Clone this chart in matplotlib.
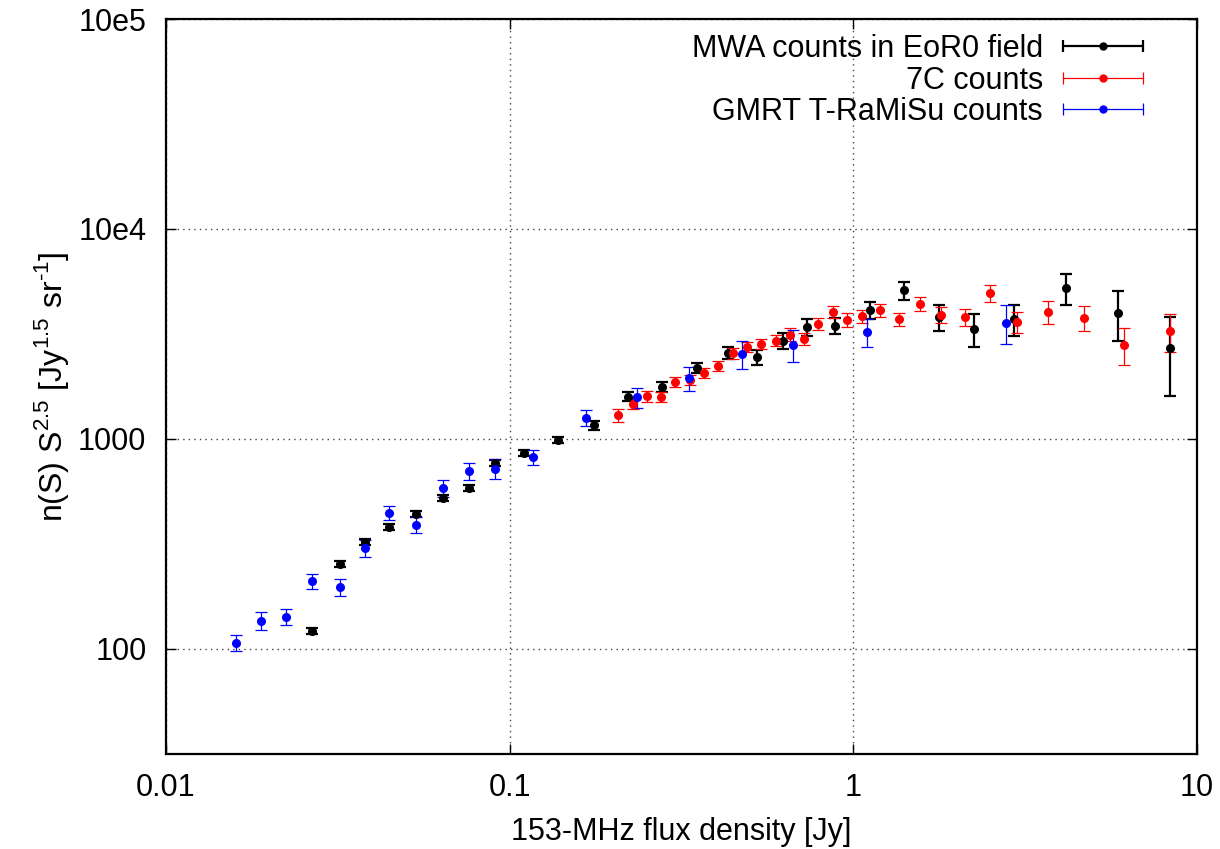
import numpy as np
import matplotlib
matplotlib.use("Agg")
import matplotlib.pyplot as plt
from matplotlib.container import ErrorbarContainer
from matplotlib.legend_handler import HandlerErrorbar

plt.rcParams['font.family'] = ['Liberation Sans', 'DejaVu Sans']
plt.rcParams['mathtext.fontset'] = 'custom'
plt.rcParams['mathtext.rm'] = 'Liberation Sans'

# MWA source counts in the EoR0 field
mwa_s = [0.0267, 0.032, 0.0379, 0.0447, 0.0535, 0.064, 0.076, 0.0908, 0.1104, 0.1387,
         0.176, 0.2208, 0.278, 0.352, 0.433, 0.524, 0.624, 0.733, 0.888, 1.116,
         1.408, 1.778, 2.242, 2.934, 4.17, 5.91, 8.38]
mwa_n = [122, 253, 324, 382, 439, 524, 586, 766, 855, 989,
         1161, 1589, 1771, 2178, 2570, 2449, 2939, 3412, 3467, 4113,
         5106, 3819, 3342, 3718, 5237, 3984, 2704]
mwa_err = [4, 8, 11, 13, 15, 17, 20, 25, 28, 33,
           52, 80, 100, 123, 175, 195, 270, 310, 320, 395,
           495, 535, 590, 610, 900, 1060, 1100]

# 7C counts
c7_s = [0.2075, 0.228, 0.2507, 0.276, 0.304, 0.336, 0.3684, 0.4045, 0.4459, 0.4909,
        0.5403, 0.595, 0.6537, 0.72, 0.792, 0.8727, 0.961, 1.064, 1.196, 1.359,
        1.565, 1.806, 2.111, 2.497, 3.0, 3.686, 4.685, 6.12, 8.38]
c7_n = [1297, 1468, 1596, 1589, 1875, 1909, 2061, 2227, 2558, 2756,
        2845, 2939, 3143, 2992, 3532, 4035, 3700, 3853, 4113, 3718,
        4395, 3890, 3819, 4955, 3624, 4026, 3767, 2806, 3267]
c7_err = [98, 82, 90, 90, 105, 107, 115, 125, 143, 155,
          160, 180, 215, 205, 240, 275, 270, 280, 300, 270,
          340, 340, 350, 450, 420, 490, 510, 560, 660]

# GMRT T-RaMiSu counts
gmrt_s = [0.01596, 0.0189, 0.0223, 0.0267, 0.032, 0.0379, 0.0447, 0.0535, 0.064, 0.076,
          0.0908, 0.1173, 0.1664, 0.235, 0.3335, 0.4736, 0.67, 1.096, 2.78]
gmrt_n = [107, 136.5, 142.5, 210, 197, 301, 446, 391, 585, 702,
          722, 818, 1262, 1581, 1945, 2541, 2812, 3245, 3582]
gmrt_err = [9.5, 13, 13, 17, 18, 28, 36, 36, 55, 64,
            80, 70, 115, 170, 245, 390, 490, 500, 745]

series = [
    ("MWA counts in EoR0 field", mwa_s, mwa_n, mwa_err, "black", 1.6),
    ("7C counts", c7_s, c7_n, c7_err, "red", 0.9),
    ("GMRT T-RaMiSu counts", gmrt_s, gmrt_n, gmrt_err, "blue", 0.9),
]

FS = 22

fig = plt.figure(figsize=(12.2, 8.49), dpi=100)
ax = fig.add_axes([0.136, 0.112, 0.845, 0.8656])

handles = []
for label, s, n, err, col, lw in series:
    ax.errorbar(s, n, yerr=err, fmt='o', color=col, ms=5.5, mec=col,
                elinewidth=lw, capsize=4, capthick=lw, zorder=3)
    # horizontal-bar proxy for the key
    h = ax.errorbar([np.nan], [np.nan], xerr=[1], fmt='o', color=col, ms=5, mec=col,
                    elinewidth=lw, capsize=4, capthick=lw, label=label)
    handles.append(h)

ax.set_xscale('log')
ax.set_yscale('log')
ax.set_xlim(0.01, 10)
ax.set_ylim(10 ** 1.5, 1e5)

ax.set_xticks([0.01, 0.1, 1, 10])
ax.set_xticklabels(['0.01', '0.1', '1', '10'])
ax.set_yticks([100, 1000, 1e4, 1e5])
ax.set_yticklabels(['100', '1000', '10e4', '10e5'])
ax.minorticks_off()
ax.tick_params(which='major', direction='in', length=7, width=1,
               top=True, right=True, labelsize=FS, pad=14)

ax.grid(True, which='major', color='#444444', linestyle=(0, (1, 3)), linewidth=1)
ax.set_axisbelow(True)
for sp in ax.spines.values():
    sp.set_linewidth(1.6)

ax.set_xlabel('153-MHz flux density [Jy]', fontsize=FS, labelpad=10)
ax.set_ylabel(r'n(S) S$^{\text{2.5}}$ [Jy$^{\text{1.5}}$ sr$^{\text{-1}}$]',
              fontsize=23, labelpad=5)

ax.legend(handles=handles, loc='upper right', bbox_to_anchor=(0.9476, 0.9795),
          markerfirst=False, frameon=False,
          fontsize=FS, numpoints=1, handlelength=2.62, handletextpad=0.65,
          labelspacing=0.05, borderaxespad=0, borderpad=0,
          handler_map={ErrorbarContainer: HandlerErrorbar(xerr_size=1.31)})

fig.savefig('out.png', dpi=100)
